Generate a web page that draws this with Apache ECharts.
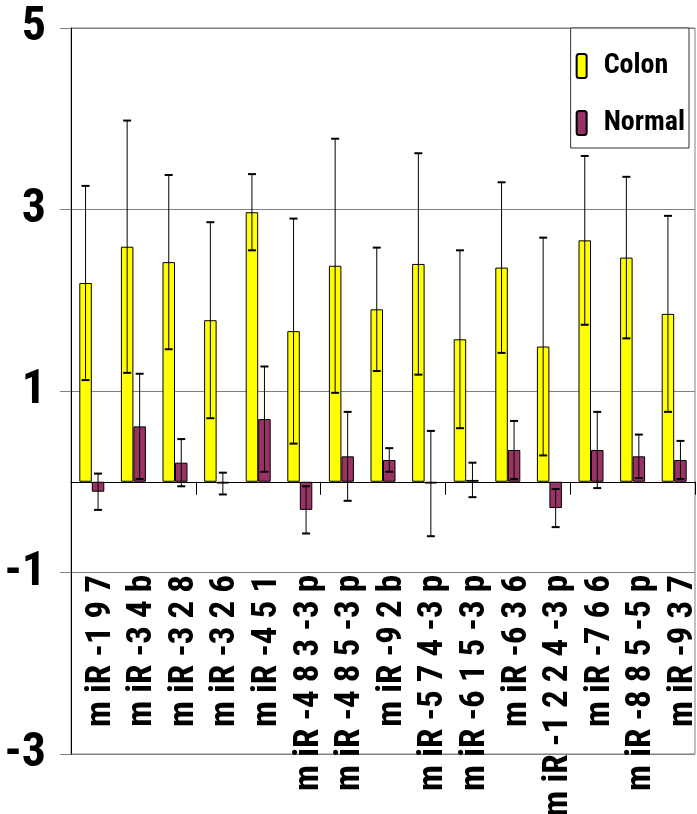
<!DOCTYPE html>
<html>
<head>
<meta charset="utf-8">
<script src="https://cdn.jsdelivr.net/npm/echarts@6/dist/echarts.min.js"></script>
<style>
    html, body { margin: 0; padding: 0; background: #fff; }
    #main { width: 697px; height: 814px; }
</style>
</head>
<body>
<div id="main"></div>
<script>
    var categories = ['m iR -1 9 7', 'm iR -3 4 b', 'm iR -3 2 8', 'm iR -3 2 6', 'm iR -4 5 1',
        'm iR -4 8 3 -3 p', 'm iR -4 8 5 -3 p', 'm iR -9 2 b', 'm iR -5 7 4 -3 p', 'm iR -6 1 5 -3 p',
        'm iR -6 3 6', 'm iR -1 2 2 4 -3 p', 'm iR -7 6 6', 'm iR -8 8 5 -5 p', 'm iR -9 3 7'];
    var colon = [2.19, 2.59, 2.42, 1.78, 2.97, 1.66, 2.38, 1.90, 2.40, 1.57, 2.36, 1.49, 2.66, 2.47, 1.85];
    var colonErr = [1.07, 1.39, 0.96, 1.08, 0.42, 1.24, 1.40, 0.68, 1.22, 0.98, 0.94, 1.20, 0.93, 0.89, 1.08];
    var normal = [-0.11, 0.61, 0.21, -0.02, 0.69, -0.31, 0.28, 0.24, -0.02, 0.02, 0.35, -0.29, 0.35, 0.28, 0.24];
    var normalErr = [0.20, 0.58, 0.26, 0.12, 0.58, 0.26, 0.49, 0.13, 0.58, 0.19, 0.32, 0.21, 0.42, 0.24, 0.21];
    var yTicks = [-3, -1, 1, 3, 5];

    var FONT = '"Roboto Condensed", "Liberation Sans", sans-serif';
    var BAR_W = 12.5;

    //误差线
    function errBar(side) {
        return function (params, api) {
            var v = api.value(1), e = api.value(2);
            var x = api.coord([api.value(0), 0])[0] + side * BAR_W / 2;
            var top = api.coord([api.value(0), v + e])[1];
            var bot = api.coord([api.value(0), v - e])[1];
            var style = { stroke: '#000', lineWidth: 1 };
            var capStyle = { stroke: '#000', lineWidth: 2 };
            return {
                type: 'group',
                children: [
                    { type: 'line', shape: { x1: x, y1: top, x2: x, y2: bot }, style: style },
                    { type: 'line', shape: { x1: x - 4, y1: top, x2: x + 4, y2: top }, style: capStyle },
                    { type: 'line', shape: { x1: x - 4, y1: bot, x2: x + 4, y2: bot }, style: capStyle }
                ]
            };
        };
    }

    var colonErrData = categories.map(function (c, i) { return [c, colon[i], colonErr[i]]; });
    var normalErrData = categories.map(function (c, i) { return [c, normal[i], normalErr[i]]; });

    var myChart = echarts.init(document.getElementById('main'));
    var option = {
        animation: false,
        grid: {
            left: 71, right: 2, top: 28, bottom: 60,
            containLabel: false, outerBoundsMode: 'none',
            show: true, borderColor: '#808080', borderWidth: 1
        },
        legend: {
            orient: 'vertical',
            right: 8, top: 28,
            data: ['Colon', 'Normal'],
            itemWidth: 10, itemHeight: 24, itemGap: 29,
            padding: [24, 4, 11, 5],
            borderColor: '#333', borderWidth: 1,
            backgroundColor: '#fff',
            textStyle: {
                fontFamily: FONT, fontWeight: 'bold', fontSize: 28, color: '#000',
                padding: [0, 0, 0, 12]
            }
        },
        xAxis: [
            {
                // 零线及刻度
                type: 'category',
                data: categories,
                axisLine: { onZero: true, lineStyle: { color: '#000', width: 1 } },
                axisTick: { show: true, length: 13, lineStyle: { color: '#000', width: 1 } },
                axisLabel: { show: false }
            },
            {
                // 标签
                type: 'category',
                data: categories,
                position: 'bottom',
                offset: -180,
                axisLine: { show: false, onZero: false },
                axisTick: { show: false },
                axisLabel: {
                    interval: 0, rotate: 90, margin: 1,
                    verticalAlign: 'top', lineHeight: 18,
                    fontFamily: FONT, fontWeight: 'bold', fontSize: 35, color: '#000'
                }
            }
        ],
        yAxis: {
            type: 'value',
            min: yTicks[0], max: yTicks[yTicks.length - 1], interval: 2,
            axisLine: { show: true, lineStyle: { color: '#000' } },
            axisTick: { show: true, length: 11, lineStyle: { color: '#808080' } },
            splitLine: { lineStyle: { color: '#808080', width: 1 } },
            axisLabel: {
                margin: 25,
                fontFamily: FONT, fontWeight: 'bold', fontSize: 48, color: '#000'
            }
        },
        series: [
            {
                name: 'Colon', type: 'bar', data: colon,
                barWidth: BAR_W, barGap: '0%',
                itemStyle: { color: '#ffff00', borderColor: '#000', borderWidth: 1 }
            },
            {
                name: 'Normal', type: 'bar', data: normal,
                barWidth: BAR_W,
                itemStyle: { color: '#993366', borderColor: '#000', borderWidth: 1 }
            },
            { type: 'custom', renderItem: errBar(-1), data: colonErrData, z: 3, silent: true },
            { type: 'custom', renderItem: errBar(1), data: normalErrData, z: 3, silent: true }
        ]
    };
    myChart.setOption(option);
</script>
</body>
</html>
